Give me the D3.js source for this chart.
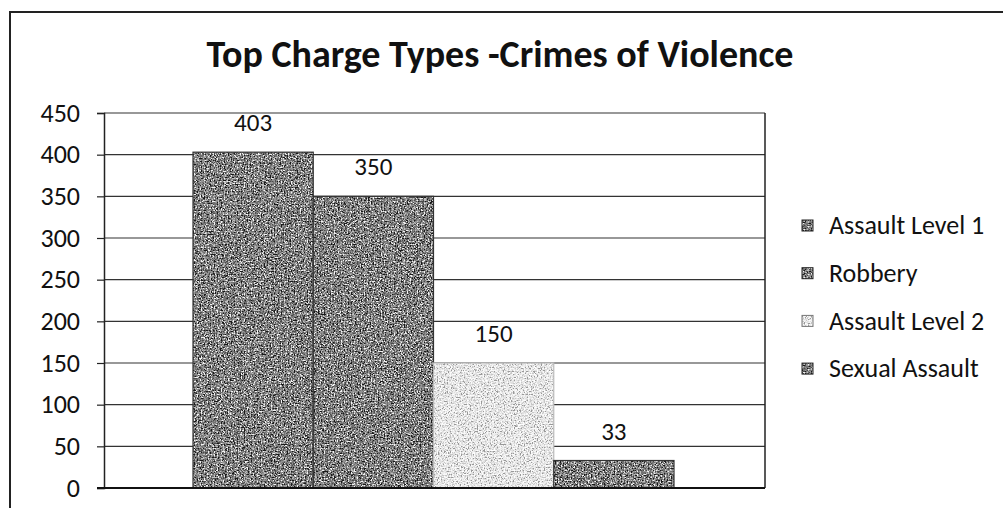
<!DOCTYPE html>
<html>
<head>
<meta charset="utf-8">
<script src="https://cdn.jsdelivr.net/npm/d3@7"></script>
<style>
  body { margin: 0; background: #fff; }
  svg text { font-family: Carlito, Calibri, Lato, "Open Sans", sans-serif; fill: #111; }
</style>
</head>
<body>
<div id="chart"></div>
<script>
// chart data
const title = "Top Charge Types -Crimes of Violence";
const series = ["Assault Level 1", "Robbery", "Assault Level 2", "Sexual Assault"];
const values = [403, 350, 150, 33];
const yTicks = [0, 50, 100, 150, 200, 250, 300, 350, 400, 450];
const shades = ["dark", "dark", "light", "dark"];

const W = 1003, H = 508;
const svg = d3.select("div#chart").append("svg")
    .attr("width", W)
    .attr("height", H);

const defs = svg.append("defs");

// speckled texture like the scanned print
function noiseFilter(id, table, seed) {
    const f = defs.append("filter")
        .attr("id", id)
        .attr("x", 0).attr("y", 0).attr("width", 1).attr("height", 1)
        .attr("color-interpolation-filters", "sRGB");
    f.append("feTurbulence")
        .attr("type", "fractalNoise")
        .attr("baseFrequency", 0.7)
        .attr("numOctaves", 2)
        .attr("seed", seed);
    f.append("feColorMatrix")
        .attr("type", "matrix")
        .attr("values", "0.33 0.33 0.33 0 0 0.33 0.33 0.33 0 0 0.33 0.33 0.33 0 0 0 0 0 0 1");
    const ct = f.append("feComponentTransfer");
    ["feFuncR", "feFuncG", "feFuncB"].forEach(function (fn) {
        ct.append(fn).attr("type", "linear").attr("slope", 3.5).attr("intercept", -1.25);
    });
    const ct2 = f.append("feComponentTransfer");
    ["feFuncR", "feFuncG", "feFuncB"].forEach(function (fn) {
        ct2.append(fn).attr("type", "discrete").attr("tableValues", table);
    });
    f.append("feComposite").attr("in2", "SourceAlpha").attr("operator", "in");
}
noiseFilter("darkNoise", "0.1 0.3 0.45 0.58 0.75 0.95", 3);
noiseFilter("lightNoise", "0.6 0.78 0.88 0.94 0.98 1", 7);

// chart frame
svg.append("rect")
    .attr("x", 10).attr("y", 12)
    .attr("width", W + 20).attr("height", H + 20)
    .attr("fill", "none")
    .attr("stroke", "#222")
    .attr("stroke-width", 2);

svg.append("text")
    .attr("x", 500)
    .attr("y", 67)
    .attr("text-anchor", "middle")
    .style("font-size", "38px")
    .style("font-weight", "bold")
    .text(title);

const plot = { left: 104, right: 765, top: 113, bottom: 488 };

const y = d3.scaleLinear()
    .domain([0, 450])
    .range([plot.bottom, plot.top]);

const x = d3.scaleBand()
    .domain(series)
    .range([plot.left + 89, plot.right - 91])
    .padding(0);

// gridlines
svg.append("g")
    .selectAll("line")
    .data(yTicks.filter(function (d) { return d > 0; }))
    .enter()
    .append("line")
    .attr("x1", plot.left).attr("x2", plot.right)
    .attr("y1", function (d) { return y(d); })
    .attr("y2", function (d) { return y(d); })
    .attr("stroke", "#333")
    .attr("stroke-width", 1.2);

// plot border right side
svg.append("line")
    .attr("x1", plot.right).attr("x2", plot.right)
    .attr("y1", plot.top).attr("y2", plot.bottom)
    .attr("stroke", "#222")
    .attr("stroke-width", 1.5);

// y axis
const yAxis = d3.axisLeft(y)
    .tickValues(yTicks)
    .tickSize(7)
    .tickPadding(17);

const gy = svg.append("g")
    .attr("transform", "translate(" + plot.left + ",0)")
    .call(yAxis);
gy.select(".domain").attr("stroke", "#222").attr("stroke-width", 1.5);
gy.selectAll(".tick line").attr("stroke", "#222").attr("stroke-width", 1.2);
gy.selectAll(".tick text")
    .style("font-size", "26px")
    .style("font-family", "Carlito, Calibri, Lato, sans-serif")
    .attr("fill", "#111");

// bars
const bars = svg.append("g")
    .selectAll("g.bar")
    .data(series)
    .enter()
    .append("g")
    .attr("class", "bar");

bars.append("rect")
    .attr("x", function (d) { return x(d); })
    .attr("y", function (d, i) { return y(values[i]); })
    .attr("width", x.bandwidth())
    .attr("height", function (d, i) { return y(0) - y(values[i]); })
    .attr("fill", "#888")
    .attr("filter", function (d, i) { return shades[i] === "dark" ? "url(#darkNoise)" : "url(#lightNoise)"; });

bars.append("rect")
    .attr("x", function (d) { return x(d); })
    .attr("y", function (d, i) { return y(values[i]); })
    .attr("width", x.bandwidth())
    .attr("height", function (d, i) { return y(0) - y(values[i]); })
    .attr("fill", "none")
    .attr("stroke", function (d, i) { return shades[i] === "dark" ? "#333" : "#bbb"; })
    .attr("stroke-width", 1.2);

// data labels
bars.append("text")
    .attr("x", function (d) { return x(d) + x.bandwidth() / 2; })
    .attr("y", function (d, i) { return y(values[i]) - 21; })
    .attr("text-anchor", "middle")
    .style("font-size", "25px")
    .text(function (d, i) { return values[i]; });

// x baseline
svg.append("line")
    .attr("x1", plot.left - 7).attr("x2", plot.right)
    .attr("y1", y(0)).attr("y2", y(0))
    .attr("stroke", "#111")
    .attr("stroke-width", 2);

// legend
const legend = svg.append("g")
    .selectAll("g")
    .data(series)
    .enter()
    .append("g")
    .attr("transform", function (d, i) { return "translate(807," + (225 + i * 47.7) + ")"; });

legend.append("rect")
    .attr("x", -5).attr("y", -5)
    .attr("width", 11).attr("height", 11)
    .attr("fill", "#888")
    .attr("filter", function (d, i) { return shades[i] === "dark" ? "url(#darkNoise)" : "url(#lightNoise)"; });

legend.append("rect")
    .attr("x", -5).attr("y", -5)
    .attr("width", 11).attr("height", 11)
    .attr("fill", "none")
    .attr("stroke", function (d, i) { return shades[i] === "dark" ? "#222" : "#777"; })
    .attr("stroke-width", 1);

legend.append("text")
    .attr("x", 22)
    .attr("y", 0)
    .attr("dy", "0.35em")
    .style("font-size", "26px")
    .text(function (d) { return d; });
</script>
</body>
</html>
